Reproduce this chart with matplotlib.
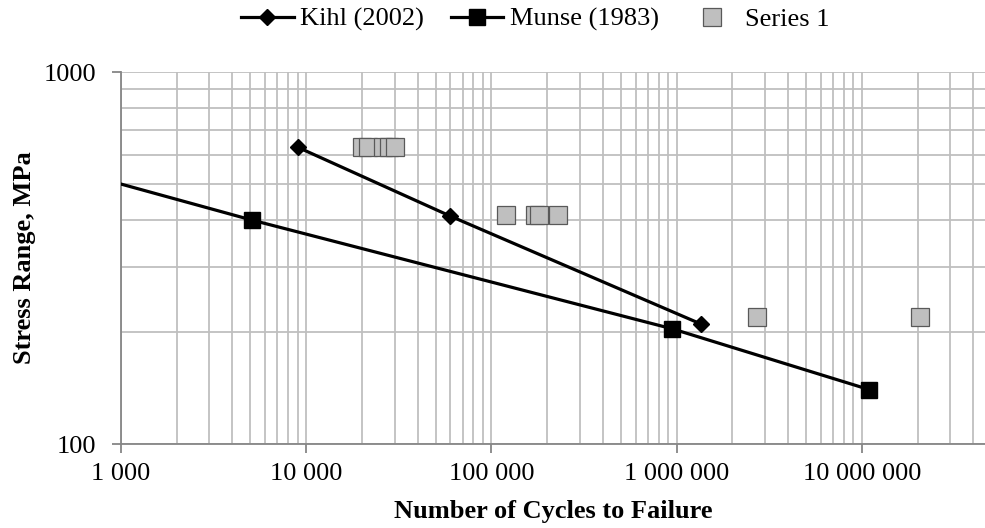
import numpy as np
import matplotlib
matplotlib.use('Agg')
import matplotlib.pyplot as plt
from matplotlib.ticker import FuncFormatter, LogLocator, NullFormatter

plt.rcParams['font.family'] = ['Liberation Serif', 'DejaVu Serif']

# data
kihl_n = [9000, 60000, 1360000]
kihl_s = [628, 410, 210]

munse_n = [1000, 5100, 950000, 11000000]
munse_s = [500, 400, 204, 140]

series1_n = [20000, 21500, 26000, 28000, 30000, 120000, 172000, 180000, 230000, 2700000, 20500000]
series1_s = [628, 628, 628, 628, 628, 414, 414, 414, 414, 220, 220]

fig = plt.figure(figsize=(9.85, 5.28), dpi=100)
ax = fig.add_axes([0.1228, 0.159, 0.8772, 0.7045])

ax.set_xscale('log')
ax.set_yscale('log')
ax.set_xlim(1000, 10**7.665)
ax.set_ylim(100, 1000)

ax.plot(kihl_n, kihl_s, color='black', lw=2.3, marker='D', ms=8.5, label='Kihl (2002)', zorder=4)
ax.plot(munse_n, munse_s, color='black', lw=2.3, marker='s', ms=12, markevery=[1, 2, 3],
        label='Munse (1983)', zorder=4)
ax.plot(series1_n, series1_s, ls='none', marker='s', ms=13, mfc='#BFBFBF', mec='#595959',
        mew=0.9, label='Series 1', zorder=3)

ax.xaxis.set_major_locator(LogLocator(base=10, numticks=10))
ax.xaxis.set_minor_locator(LogLocator(base=10, subs=np.arange(2, 10), numticks=20))
ax.yaxis.set_major_locator(LogLocator(base=10, numticks=5))
ax.yaxis.set_minor_locator(LogLocator(base=10, subs=np.arange(2, 10), numticks=10))
ax.xaxis.set_major_formatter(FuncFormatter(lambda v, p: '{:,}'.format(int(round(v))).replace(',', ' ')))
ax.yaxis.set_major_formatter(FuncFormatter(lambda v, p: str(int(round(v)))))
ax.xaxis.set_minor_formatter(NullFormatter())
ax.yaxis.set_minor_formatter(NullFormatter())

ax.grid(True, which='both', color='#BFBFBF', lw=1.3, zorder=0)
ax.set_axisbelow(True)
for s in ['top', 'right']:
    ax.spines[s].set_visible(False)
for s in ['left', 'bottom']:
    ax.spines[s].set_color('#868686')
    ax.spines[s].set_linewidth(1.3)
ax.tick_params(which='major', direction='out', length=6.5, width=1.3, color='#868686', labelsize=19)
ax.tick_params(axis='x', which='major', pad=7)
ax.tick_params(axis='y', which='major', pad=11)
ax.tick_params(which='minor', length=0)

ax.set_xlabel('Number of Cycles to Failure', fontsize=19, fontweight='bold', labelpad=11)
ax.set_ylabel('Stress Range, MPa', fontsize=19, fontweight='bold', labelpad=5.5)

fig.legend(*ax.get_legend_handles_labels(), loc='center', bbox_to_anchor=(535 / 985, 0.963), ncol=3,
           frameon=False, fontsize=19, handlelength=2.0, handletextpad=0.25, columnspacing=1.0,
           borderpad=0, borderaxespad=0)

fig.savefig('out.png', dpi=100)
